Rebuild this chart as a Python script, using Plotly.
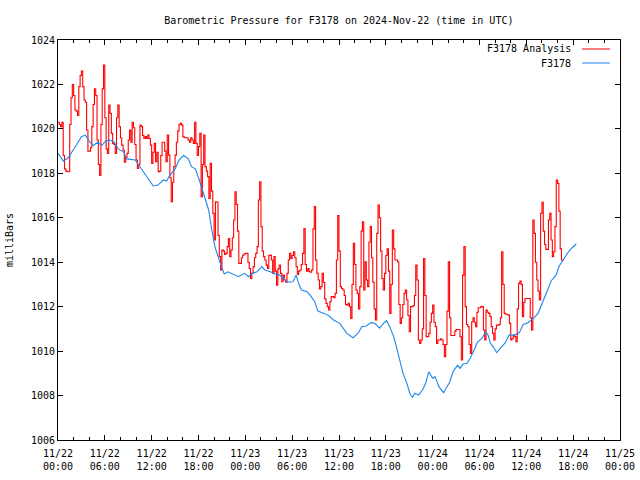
import pandas as pd
import plotly.graph_objects as go

START = pd.Timestamp("2024-11-22 00:00")

# F3178 Analysis (red): values every 10 minutes from 2024-11-22 00:00 (one row per hour)
analysis_vals = [
    1020.3, 1020.2, 1020.1, 1020.3, 1018.8, 1018.2,
    1018.1, 1018.07, 1018.07, 1020.2, 1021.4, 1022.0,
    1021.5, 1020.85, 1020.8, 1020.6, 1021.9, 1022.4,
    1022.6, 1021.9, 1021.3, 1021.2, 1019.95, 1019.0,
    1019.0, 1019.15, 1020.1, 1021.1, 1021.8, 1021.5,
    1019.5, 1018.4, 1017.9, 1020.2, 1021.8, 1022.87,
    1020.5, 1019.1, 1018.9, 1021.07, 1020.7, 1019.8,
    1019.35, 1019.3, 1018.9, 1020.5, 1021.07, 1020.1,
    1019.6, 1019.27, 1019.05, 1018.5, 1018.7, 1018.9,
    1019.5, 1019.95, 1019.4, 1020.3, 1020.05, 1019.3,
    1018.6, 1018.22, 1018.4, 1020.17, 1020.1, 1019.7,
    1019.57, 1019.65, 1019.57, 1019.72, 1019.57, 1019.27,
    1018.45, 1018.95, 1019.35, 1018.52, 1018.95, 1018.07,
    1018.1, 1018.8, 1019.4, 1019.4, 1019.0, 1018.52,
    1019.72, 1018.82, 1017.8, 1016.72, 1017.6, 1018.3,
    1018.82, 1019.4, 1019.9, 1020.2, 1020.25, 1020.17,
    1019.65, 1019.6, 1019.6, 1019.6, 1019.5, 1019.4,
    1019.6, 1019.5, 1019.35, 1020.3, 1019.35, 1018.8,
    1019.2, 1019.8, 1016.95, 1018.4, 1019.72, 1018.3,
    1018.1, 1017.85, 1016.87, 1018.45, 1017.2, 1016.2,
    1015.0, 1016.72, 1016.7, 1015.2, 1014.25, 1013.65,
    1014.55, 1014.5, 1014.35, 1014.4, 1014.7, 1015.07,
    1014.25, 1014.55, 1015.1, 1015.9, 1017.17, 1016.6,
    1015.4, 1013.95, 1013.95, 1014.2, 1014.32, 1014.37,
    1014.4, 1014.4, 1014.0, 1013.72, 1013.27, 1013.5,
    1013.8, 1014.2, 1014.4, 1014.7, 1016.8, 1017.62,
    1015.6, 1014.5, 1014.25, 1014.1, 1013.87, 1013.72,
    1014.3, 1014.32, 1014.1, 1013.5, 1014.25, 1013.6,
    1012.97, 1013.7, 1013.87, 1013.5, 1013.12, 1013.42,
    1013.2, 1013.1, 1013.5, 1014.1, 1014.4, 1014.17,
    1014.3, 1014.47, 1014.2, 1013.8, 1013.45, 1013.6,
    1013.65, 1013.9, 1014.4, 1015.52, 1013.9, 1013.6,
    1013.72, 1013.57, 1013.55, 1013.65, 1015.5, 1016.5,
    1014.1, 1013.5, 1013.2, 1012.8, 1012.9, 1013.5,
    1013.1, 1012.35, 1012.15, 1012.0, 1011.85, 1012.22,
    1012.45, 1012.45, 1012.4, 1012.6, 1014.1, 1016.1,
    1014.5, 1012.9, 1012.82, 1012.75, 1012.5, 1012.1,
    1012.07, 1012.15, 1012.0, 1011.47, 1013.0, 1014.85,
    1013.9, 1012.75, 1012.6, 1011.9, 1012.9, 1015.4,
    1015.82, 1012.75, 1014.02, 1013.2, 1012.9, 1014.9,
    1015.6, 1014.2, 1013.1, 1011.9, 1011.4, 1015.3,
    1016.57, 1016.0, 1014.5, 1013.27, 1012.75, 1013.5,
    1014.3, 1014.6, 1013.6, 1011.7, 1013.0, 1015.45,
    1014.6, 1014.1, 1014.1, 1014.02, 1012.1, 1011.25,
    1011.5, 1012.1, 1012.6, 1012.75, 1012.3, 1011.6,
    1010.87, 1012.0, 1012.0, 1012.05, 1012.5, 1013.87,
    1013.2, 1010.5, 1010.35, 1010.5, 1011.0, 1014.17,
    1012.5, 1010.65, 1010.65, 1010.8, 1011.3, 1011.7,
    1012.07, 1011.3, 1011.1, 1010.35, 1010.5, 1010.5,
    1010.55, 1010.5, 1010.3, 1009.75, 1010.3, 1011.8,
    1014.02, 1011.5, 1010.7, 1010.7, 1010.7, 1010.9,
    1010.97, 1010.97, 1010.97, 1010.65, 1009.6, 1013.42,
    1014.7, 1012.0, 1011.2, 1011.1, 1010.3, 1009.9,
    1011.32, 1011.5, 1011.3, 1011.1, 1011.75, 1011.95,
    1011.95, 1012.0, 1012.0, 1010.95, 1010.5, 1011.85,
    1011.75, 1011.7, 1011.55, 1011.1, 1010.8, 1010.5,
    1011.0, 1011.17, 1011.17, 1011.2, 1011.5, 1014.47,
    1013.0, 1011.7, 1011.67, 1011.65, 1011.62, 1011.25,
    1010.5, 1010.57, 1010.72, 1010.65, 1010.42, 1011.9,
    1013.05, 1013.15, 1013.0, 1011.55, 1012.2, 1012.37,
    1012.37, 1012.37, 1012.37, 1011.5, 1010.95, 1015.9,
    1015.3, 1014.0, 1013.2, 1012.7, 1012.3, 1016.2,
    1016.7, 1015.4, 1014.8, 1014.58, 1014.58, 1015.9,
    1016.2, 1015.0, 1014.25, 1014.47, 1015.6, 1017.7,
    1017.55, 1016.3, 1014.6, 1014.1, 1014.05,
]

# F3178 observations (blue): hours since 2024-11-22 00:00 and pressure
obs_hours = [
    0.0, 0.7, 1.3, 2.0, 2.4, 3.0, 3.5, 4.1, 4.5, 5.1, 5.6, 6.1, 6.7, 7.2, 7.7,
    8.4, 8.8, 9.9, 10.5, 11.1, 11.8, 12.2, 12.8, 13.5, 13.9, 14.3, 15.0, 15.5,
    16.1, 16.7, 17.1, 17.6, 18.1, 18.8, 19.3, 19.7, 20.1, 20.8, 21.3, 21.8,
    22.5, 23.1, 23.9, 24.4, 24.9, 25.5, 26.1, 26.5, 27.2, 27.8, 28.4, 28.9,
    29.4, 30.1, 30.5, 30.9, 31.2, 31.9, 32.3, 32.9, 33.3, 34.0, 34.6, 35.3,
    36.1, 37.0, 37.8, 38.5, 38.9, 39.5, 40.1, 40.6, 41.2, 41.7, 42.1, 42.5,
    43.0, 43.4, 43.8, 44.2, 44.7, 45.1, 45.4, 45.7, 46.2, 46.7, 47.1, 47.5,
    48.0, 48.3, 48.8, 49.4, 49.8, 50.2, 50.6, 51.2, 51.5, 51.9, 52.4, 52.8,
    53.4, 53.7, 54.3, 54.8, 55.1, 55.4, 55.8, 56.2, 56.7, 57.3, 57.8, 58.5,
    59.1, 59.6, 60.2, 60.9, 61.5, 61.9, 62.4, 62.8, 63.2, 63.8, 64.2, 64.7,
    65.4, 65.8, 66.4,
]
obs_vals = [
    1018.9, 1018.55, 1018.7, 1019.05, 1019.3, 1019.65, 1019.72, 1019.4, 1019.25,
    1019.4, 1019.25, 1019.45, 1019.5, 1019.4, 1019.1, 1018.97, 1018.65, 1018.6,
    1018.3, 1018.0, 1017.62, 1017.43, 1017.47, 1017.7, 1017.65, 1017.9, 1018.2,
    1018.6, 1018.8, 1018.65, 1018.3, 1018.2, 1017.7, 1016.95, 1016.35, 1015.45,
    1014.7, 1013.95, 1013.47, 1013.57, 1013.47, 1013.35, 1013.5, 1013.35, 1013.5,
    1013.57, 1013.8, 1013.65, 1013.57, 1013.47, 1013.42, 1013.27, 1013.1, 1013.12,
    1013.42, 1012.97, 1012.75, 1012.67, 1012.52, 1012.22, 1011.8, 1011.7, 1011.62,
    1011.4, 1011.25, 1010.8, 1010.6, 1010.83, 1011.1, 1011.13, 1011.28, 1011.25,
    1011.03, 1011.25, 1011.37, 1011.1, 1010.65, 1010.13, 1009.52, 1009.0, 1008.55,
    1008.07, 1007.92, 1008.1, 1008.02, 1008.25, 1008.55, 1009.07, 1008.78, 1008.85,
    1008.4, 1008.13, 1008.37, 1008.62, 1009.07, 1009.37, 1009.22, 1009.42, 1009.45,
    1009.67, 1010.13, 1010.38, 1010.57, 1010.87, 1010.72, 1010.35, 1010.17, 1009.93,
    1010.13, 1010.38, 1010.72, 1010.72, 1010.83, 1011.2, 1011.28, 1011.47, 1011.7,
    1012.07, 1012.52, 1012.82, 1013.17, 1013.42, 1013.82, 1014.1, 1014.47, 1014.63,
    1014.82,
]

x_tick_hours = [0, 6, 12, 18, 24, 30, 36, 42, 48, 54, 60, 66, 72]
x_tick_labels = ["11/22<br>00:00", "11/22<br>06:00", "11/22<br>12:00", "11/22<br>18:00",
                 "11/23<br>00:00", "11/23<br>06:00", "11/23<br>12:00", "11/23<br>18:00",
                 "11/24<br>00:00", "11/24<br>06:00", "11/24<br>12:00", "11/24<br>18:00",
                 "11/25<br>00:00"]
y_ticks = [1006, 1008, 1010, 1012, 1014, 1016, 1018, 1020, 1022, 1024]

analysis_times = pd.date_range(START, periods=len(analysis_vals), freq="10min")
obs_times = [START + pd.Timedelta(hours=h) for h in obs_hours]
tick_times = [START + pd.Timedelta(hours=h) for h in x_tick_hours]

RED = "#ff0000"
BLUE = "#1c86ee"
FONT = "DejaVu Sans Mono"

fig = go.Figure()
fig.add_trace(go.Scatter(x=analysis_times, y=analysis_vals, mode="lines",
                         line=dict(color=RED, width=1.1, shape="hv"),
                         name="F3178 Analysis", showlegend=False))
fig.add_trace(go.Scatter(x=obs_times, y=obs_vals, mode="lines",
                         line=dict(color=BLUE, width=1.1),
                         name="F3178", showlegend=False))

# gnuplot-style legend (text right-aligned, sample line to the right)
legend_items = [("F3178 Analysis", RED, 0.9775), ("F3178", BLUE, 0.9425)]
for label, color, yy in legend_items:
    fig.add_annotation(x=0.9164, y=yy, xref="paper", yref="paper", text=label,
                       showarrow=False, xanchor="right", yanchor="middle",
                       font=dict(family=FONT, size=10, color="black"))
    fig.add_shape(type="line", xref="paper", yref="paper", x0=0.9324, x1=0.9822,
                  y0=yy, y1=yy, line=dict(color=color, width=1))

fig.update_layout(
    width=640, height=480,
    margin=dict(l=58, r=20, t=40, b=40, autoexpand=False),
    paper_bgcolor="white", plot_bgcolor="white",
    font=dict(family=FONT, size=10, color="black"),
    title=dict(text="Barometric Pressure for F3178 on 2024-Nov-22 (time in UTC)",
               x=0.5295, xanchor="center", y=0.958, yanchor="middle",
               font=dict(family=FONT, size=10, color="black")),
    showlegend=False,
)
fig.update_xaxes(
    range=[tick_times[0], tick_times[-1]],
    tickvals=tick_times, ticktext=x_tick_labels,
    ticks="inside", ticklen=5, tickcolor="black", tickwidth=1,
    showline=True, linecolor="black", linewidth=1, mirror="allticks",
    showgrid=False, zeroline=False, automargin=False, ticklabelstandoff=4,
    tickfont=dict(family=FONT, size=10, color="black"),
    minor=dict(dtick=2 * 3600 * 1000, tick0=tick_times[0], ticks="inside",
               ticklen=3, tickcolor="black", showgrid=False),
)
fig.update_yaxes(
    range=[1006, 1024], tickvals=y_ticks,
    ticks="inside", ticklen=5, tickcolor="black", tickwidth=1,
    showline=True, linecolor="black", linewidth=1, mirror="allticks",
    showgrid=False, zeroline=False, automargin=False,
    tickfont=dict(family=FONT, size=10, color="black"),
    title=dict(text="milliBars", standoff=15, font=dict(family=FONT, size=10, color="black")),
)

fig.write_html("out.html", config={"displayModeBar": False},
               post_script="document.body.style.margin='0px';document.body.style.padding='0px';")
